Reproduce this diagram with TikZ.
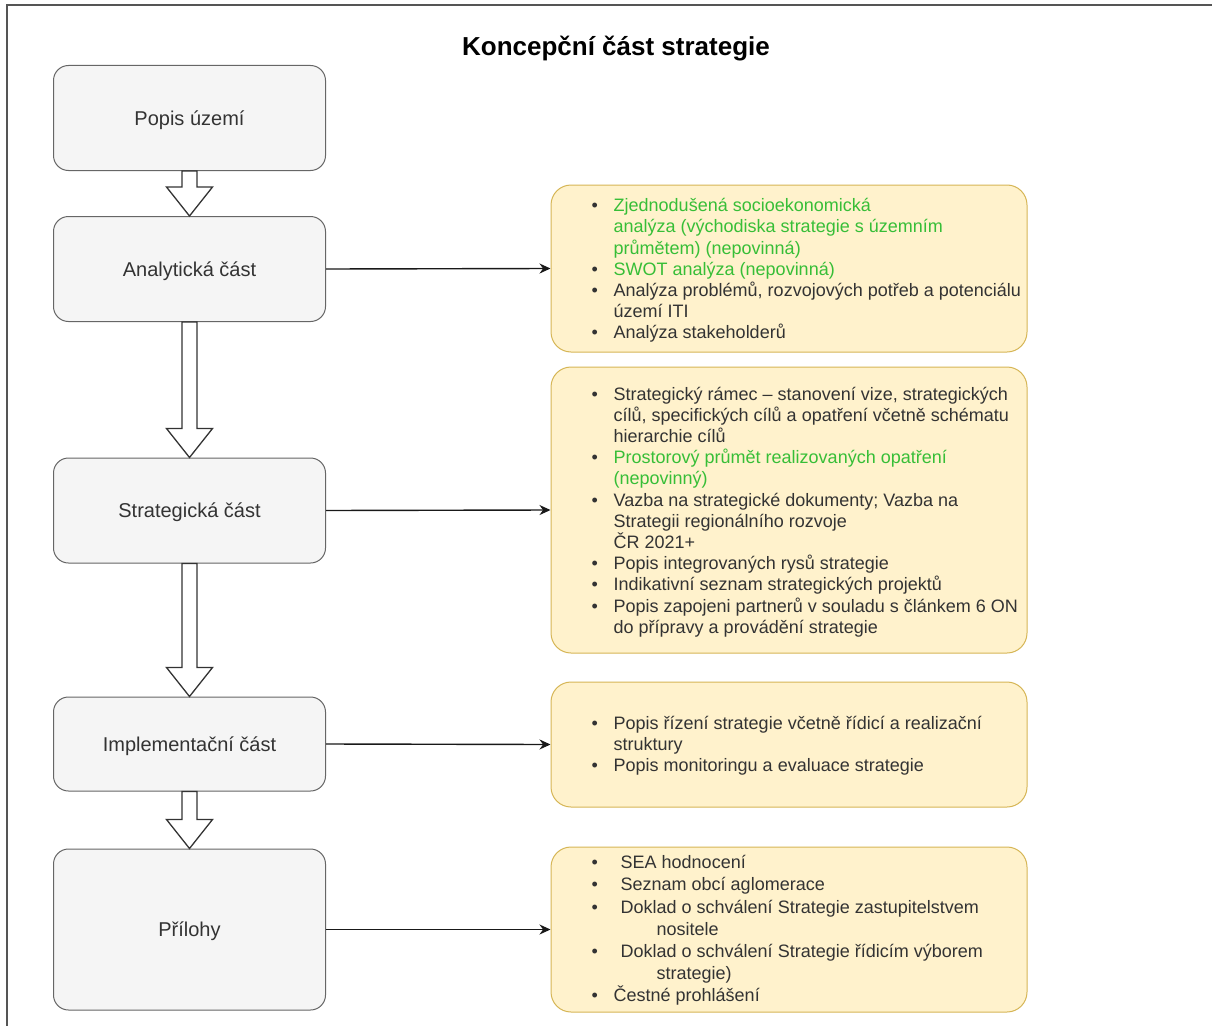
\documentclass[tikz,border=0pt]{standalone}
\usepackage{fontspec}
\setmainfont{Liberation Sans}
\usetikzlibrary{calc,arrows.meta}
\definecolor{grayfill}{HTML}{F5F5F5}
\definecolor{graystroke}{HTML}{666666}
\definecolor{graytext}{HTML}{333333}
\definecolor{yelfill}{HTML}{FFF2CC}
\definecolor{yelstroke}{HTML}{D6B656}
\definecolor{grn}{RGB}{55,190,55}
\definecolor{framecol}{HTML}{555555}
\newcommand{\yb}{\makebox[22pt][l]{\textbullet}}
\newcommand{\ybb}{\makebox[29pt][l]{\textbullet}}
\newcommand{\yi}{\hspace*{22pt}}
\tikzset{
  graybox/.style={draw=graystroke, fill=grayfill, rounded corners=15pt, line width=1pt,
    minimum width=272pt, text=graytext, font=\fontsize{20}{24}\selectfont, inner sep=0pt},
  graylabel/.style={text=graytext, font=\fontsize{20}{24}\selectfont, inner sep=0pt},
  yelbox/.style={draw=yelstroke, fill=yelfill, rounded corners=20pt, line width=1pt,
    minimum width=476pt, inner sep=0pt},
  yeltext/.style={anchor=west, align=left, inner sep=0pt, text=graytext,
    font=\fontsize{18}{21.2}\selectfont},
  conn/.style={draw=black!90, line width=1.4pt, -{Stealth[length=11pt,width=10pt]}},
  blockarr/.style={draw=graytext, fill=white, line width=1.3pt, line join=miter},
}
\newcommand{\blockarrow}[2]{%
  \draw[blockarr] ($(#1.south)+(-7.5,0)$) -- ($(#1.south)+(7.5,0)$)
    -- ($(#2.north)+(7.5,-29)$) -- ($(#2.north)+(23,-29)$) -- (#2.north)
    -- ($(#2.north)+(-23,-29)$) -- ($(#2.north)+(-7.5,-29)$) -- cycle;}
\begin{document}
\begin{tikzpicture}[x=1pt,y=-1pt]
\useasboundingbox (0,0) rectangle (1212,1025);
\fill[white] (0,0) rectangle (1212,1025);
\draw[framecol, line width=2pt] (7,1026) -- (7,5) -- (1213,5);

\node[font=\bfseries\fontsize{26}{30}\selectfont, inner sep=0pt] (title) at (616,48.5) {Koncepční část strategie};

\node[graybox, minimum height=105pt] (popis) at (189.5,118) {};
\node[graybox, minimum height=105pt] (ana) at (189.5,269) {};
\node[graybox, minimum height=105pt] (str) at (189.5,510.5) {};
\node[graybox, minimum height=94pt] (imp) at (189.5,744) {};
\node[graybox, minimum height=161pt] (pri) at (189.5,929.5) {};
\node[graylabel] (lpopis) at ($(popis.center)+(0,2)$) {Popis území};
\node[graylabel] (lana) at ($(ana.center)+(0,2)$) {Analytická část};
\node[graylabel] (lstr) at ($(str.center)+(0,2)$) {Strategická část};
\node[graylabel] (limp) at ($(imp.center)+(0,2)$) {Implementační část};
\node[graylabel] (lpri) at ($(pri.center)+(0,2)$) {Přílohy};

\blockarrow{popis}{ana}
\blockarrow{ana}{str}
\blockarrow{str}{imp}
\blockarrow{imp}{pri}

\node[yelbox, minimum height=167pt] (y1) at (789,268.5) {};
\node[yelbox, minimum height=286pt] (y2) at (789,510) {};
\node[yelbox, minimum height=125pt] (y3) at (789,744.5) {};
\node[yelbox, minimum height=165pt] (y4) at (789,929.5) {};

\node[yeltext] (t1) at ($(y1.west)+(41,2)$) {%
\yb\textcolor{grn}{Zjednodušená socioekonomická}\\
\yi\textcolor{grn}{analýza (východiska strategie s územním}\\
\yi\textcolor{grn}{průmětem) (nepovinná)}\\
\yb\textcolor{grn}{SWOT analýza (nepovinná)}\\
\yb Analýza problémů, rozvojových potřeb a potenciálu\\
\yi území ITI\\
\yb Analýza stakeholderů};

\node[yeltext] (t2) at ($(y2.west)+(41,2)$) {%
\yb Strategický rámec – stanovení vize, strategických\\
\yi cílů, specifických cílů a opatření včetně schématu\\
\yi hierarchie cílů\\
\yb\textcolor{grn}{Prostorový průmět realizovaných opatření}\\
\yi\textcolor{grn}{(nepovinný)}\\
\yb Vazba na strategické dokumenty; Vazba na\\
\yi Strategii regionálního rozvoje\\
\yi ČR 2021+\\
\yb Popis integrovaných rysů strategie\\
\yb Indikativní seznam strategických projektů\\
\yb Popis zapojeni partnerů v souladu s článkem 6 ON\\
\yi do přípravy a provádění strategie};

\node[yeltext] (t3) at ($(y3.west)+(41,1)$) {%
\yb Popis řízení strategie včetně řídicí a realizační\\
\yi struktury\\
\yb Popis monitoringu a evaluace strategie};

\node[yeltext, font=\fontsize{18}{22.2}\selectfont] (t4) at ($(y4.west)+(41,1)$) {%
\ybb SEA hodnocení\\
\ybb Seznam obcí aglomerace\\
\ybb Doklad o schválení Strategie zastupitelstvem\\
\hspace*{65pt}nositele\\
\ybb Doklad o schválení Strategie řídicím výborem\\
\hspace*{65pt}strategie)\\
\yb Čestné prohlášení};

\draw[conn] (ana.east) -- (y1.west);
\draw[conn] (str.east) -- (y2.west);
\draw[conn] (imp.east) -- (y3.west);
\draw[conn] (pri.east) -- (y4.west);
\end{tikzpicture}
\end{document}
